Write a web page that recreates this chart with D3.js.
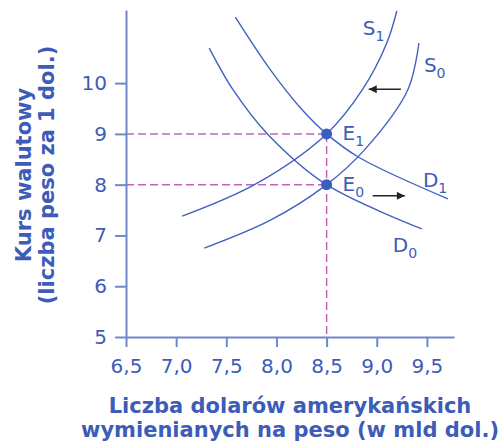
<!DOCTYPE html>
<html><head><meta charset="utf-8">
<script src="https://cdn.jsdelivr.net/npm/d3@7"></script>
<style>
html,body{margin:0;padding:0;background:#fff;}
svg{display:block;font-family:"DejaVu Sans",sans-serif;}
</style></head>
<body>
<svg id="chart" width="502" height="443"></svg>
<script>
// ---- data ----
const xTicks = [6.5, 7.0, 7.5, 8.0, 8.5, 9.0, 9.5];
const yTicks = [5, 6, 7, 8, 9, 10];
const S1 = [[7.06,7.38],[7.79,8.01],[8.5,9.0],[8.86,9.88],[9.10,10.79],[9.20,11.42]];
const S0 = [[7.28,6.75],[7.94,7.30],[8.5,8.0],[8.88,8.69],[9.31,9.87],[9.42,10.79]];
const D1 = [[7.59,11.30],[7.94,10.26],[8.24,9.51],[8.5,9.0],[8.82,8.54],[9.71,7.72]];
const D0 = [[7.33,10.69],[7.57,9.86],[7.91,9.0],[8.5,8.0],[9.45,7.13]];
const equilibria = [{name:"E", sub:"1", x:8.5, y:9}, {name:"E", sub:"0", x:8.5, y:8}];
const curveLabels = [
  {name:"S", sub:"1", x:8.86, y:10.95},
  {name:"S", sub:"0", x:9.47, y:10.22},
  {name:"D", sub:"1", x:9.46, y:7.95},
  {name:"D", sub:"0", x:9.16, y:6.67}
];
const shiftArrows = [{x1:9.24, x2:8.92, y:9.88}, {x1:8.96, x2:9.28, y:7.78}];
const xTitle = ["Liczba dolarów amerykańskich", "wymienianych na peso (w mld dol.)"];
const yTitle = ["Kurs walutowy", "(liczba peso za 1 dol.)"];

// ---- drawing ----
const svg = d3.select("#chart");
const x = d3.scaleLinear().domain([6.5, 9.77]).range([126, 454]);
const y = d3.scaleLinear().domain([5, 11.44]).range([337, 10]);
const axisCol = "#6f88cc", textCol = "#3d5cb8", curveCol = "#4262c2", dashCol = "#c463c4";

const defs = svg.append("defs");
defs.append("marker").attr("id","ah").attr("viewBox","0 0 10 10")
  .attr("refX",10).attr("refY",5).attr("markerWidth",10).attr("markerHeight",8)
  .attr("markerUnits","userSpaceOnUse").attr("orient","auto")
  .append("path").attr("d","M0,0L10,5L0,10z").attr("fill","#222");

// dashed guides
const g = svg.append("g");
equilibria.forEach(e => {
  g.append("line").attr("x1", x(6.5)).attr("x2", x(e.x)).attr("y1", y(e.y)).attr("y2", y(e.y))
    .attr("stroke", dashCol).attr("stroke-width", 1.5).attr("stroke-dasharray", "8,4");
});
g.append("line").attr("x1", x(8.5)).attr("x2", x(8.5)).attr("y1", y(9)).attr("y2", y(5))
  .attr("stroke", dashCol).attr("stroke-width", 1.5).attr("stroke-dasharray", "8,4");

// axes
const xAxis = d3.axisBottom(x).tickValues(xTicks).tickSize(10).tickSizeOuter(0).tickPadding(12)
  .tickFormat(d => d3.format(".1f")(d).replace(".", ","));
const yAxis = d3.axisLeft(y).tickValues(yTicks).tickSize(11).tickSizeOuter(0).tickPadding(8)
  .tickFormat(d3.format("d"));
const gx = svg.append("g").attr("transform", `translate(0,${y(5)})`).call(xAxis);
const gy = svg.append("g").attr("transform", `translate(${x(6.5)},0)`).call(yAxis);
[gx, gy].forEach(a => {
  a.select(".domain").attr("stroke", axisCol).attr("stroke-width", 2);
  a.selectAll(".tick line").attr("stroke", axisCol).attr("stroke-width", 2);
  a.selectAll(".tick text").attr("fill", textCol).attr("font-size", 20).attr("font-family", "DejaVu Sans");
});

// curves
const line = d3.line().x(d => x(d[0])).y(d => y(d[1])).curve(d3.curveCatmullRom.alpha(0.5));
[S1, S0, D1, D0].forEach(c => {
  svg.append("path").attr("d", line(c)).attr("fill", "none").attr("stroke", curveCol).attr("stroke-width", 1.4);
});

// equilibrium points
equilibria.forEach(e => {
  svg.append("circle").attr("cx", x(e.x)).attr("cy", y(e.y)).attr("r", 5.5).attr("fill", "#3a5dbf");
  const t = svg.append("text").attr("x", x(e.x) + 16).attr("y", y(e.y) + 6)
    .attr("fill", textCol).attr("font-size", 20);
  t.append("tspan").text(e.name);
  t.append("tspan").attr("font-size", 14).attr("dy", 6).text(e.sub);
});

// curve labels
curveLabels.forEach(l => {
  const t = svg.append("text").attr("x", x(l.x)).attr("y", y(l.y))
    .attr("fill", textCol).attr("font-size", 20);
  t.append("tspan").text(l.name);
  t.append("tspan").attr("font-size", 14).attr("dy", 6).text(l.sub);
});

// shift arrows
shiftArrows.forEach(a => {
  svg.append("line").attr("x1", x(a.x1)).attr("x2", x(a.x2)).attr("y1", y(a.y)).attr("y2", y(a.y))
    .attr("stroke", "#222").attr("stroke-width", 1.5).attr("marker-end", "url(#ah)");
});

// axis titles
const xt = svg.append("text").attr("text-anchor", "middle").attr("fill", textCol)
  .attr("font-size", 21).attr("font-weight", "bold");
xTitle.forEach((s, i) => xt.append("tspan").attr("x", 290).attr("y", 413 + i * 24).text(s));
yTitle.forEach((s, i) => {
  svg.append("text").attr("transform", `translate(${31 + i * 23},${175}) rotate(-90)`)
    .attr("text-anchor", "middle").attr("fill", textCol)
    .attr("font-size", 21).attr("font-weight", "bold").text(s);
});
</script>
</body></html>
